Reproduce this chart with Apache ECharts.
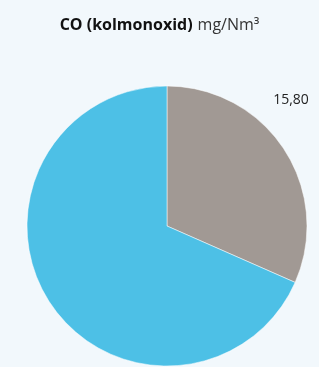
<!DOCTYPE html>
<html>
<head>
<meta charset="utf-8">
<style>
  html, body { margin: 0; padding: 0; background: #f2f8fc; }
  #chart { width: 319px; height: 367px; }
</style>
<script src="https://cdn.jsdelivr.net/npm/echarts@6/dist/echarts.min.js"></script>
</head>
<body>
<div id="chart"></div>
<script>
// CO utslipp mot grenseverdi
const names = ['Målt', 'Gjenstår']
const values = [15.80, 34.20]
const colors = ['#a19994', '#4dc0e6']

const chart = echarts.init(document.getElementById('chart'))
chart.setOption({
  backgroundColor: '#f2f8fc',
  animation: false,
  title: {
    text: '{b|CO (kolmonoxid)} {n|mg/Nm³}',
    left: 'center',
    top: 11,
    textStyle: {
      rich: {
        b: { fontFamily: 'Open Sans', fontWeight: 'bold', fontSize: 16, color: '#111', letterSpacing: -0.4 },
        n: { fontFamily: 'Open Sans', fontWeight: 'normal', fontSize: 16, color: '#333', letterSpacing: -0.4 }
      }
    }
  },
  series: [{
    type: 'pie',
    center: [167, 226],
    radius: [0, 140],
    startAngle: 90,
    clockwise: true,
    silent: true,
    avoidLabelOverlap: false,
    itemStyle: {
      borderColor: '#ffffff',
      borderWidth: 0.5
    },
    label: {
      show: true,
      position: 'outside',
      fontFamily: 'Open Sans',
      fontSize: 14,
      color: '#222',
      formatter: p => p.dataIndex === 0 ? p.value.toFixed(2).replace('.', ',') : ''
    },
    labelLine: { show: false },
    labelLayout: p => p.dataIndex === 0
      ? { x: 291, y: 100, align: 'center', verticalAlign: 'middle' }
      : {},
    data: names.map((n, i) => ({
      name: n,
      value: values[i],
      itemStyle: { color: colors[i] }
    }))
  }]
})
</script>
</body>
</html>
